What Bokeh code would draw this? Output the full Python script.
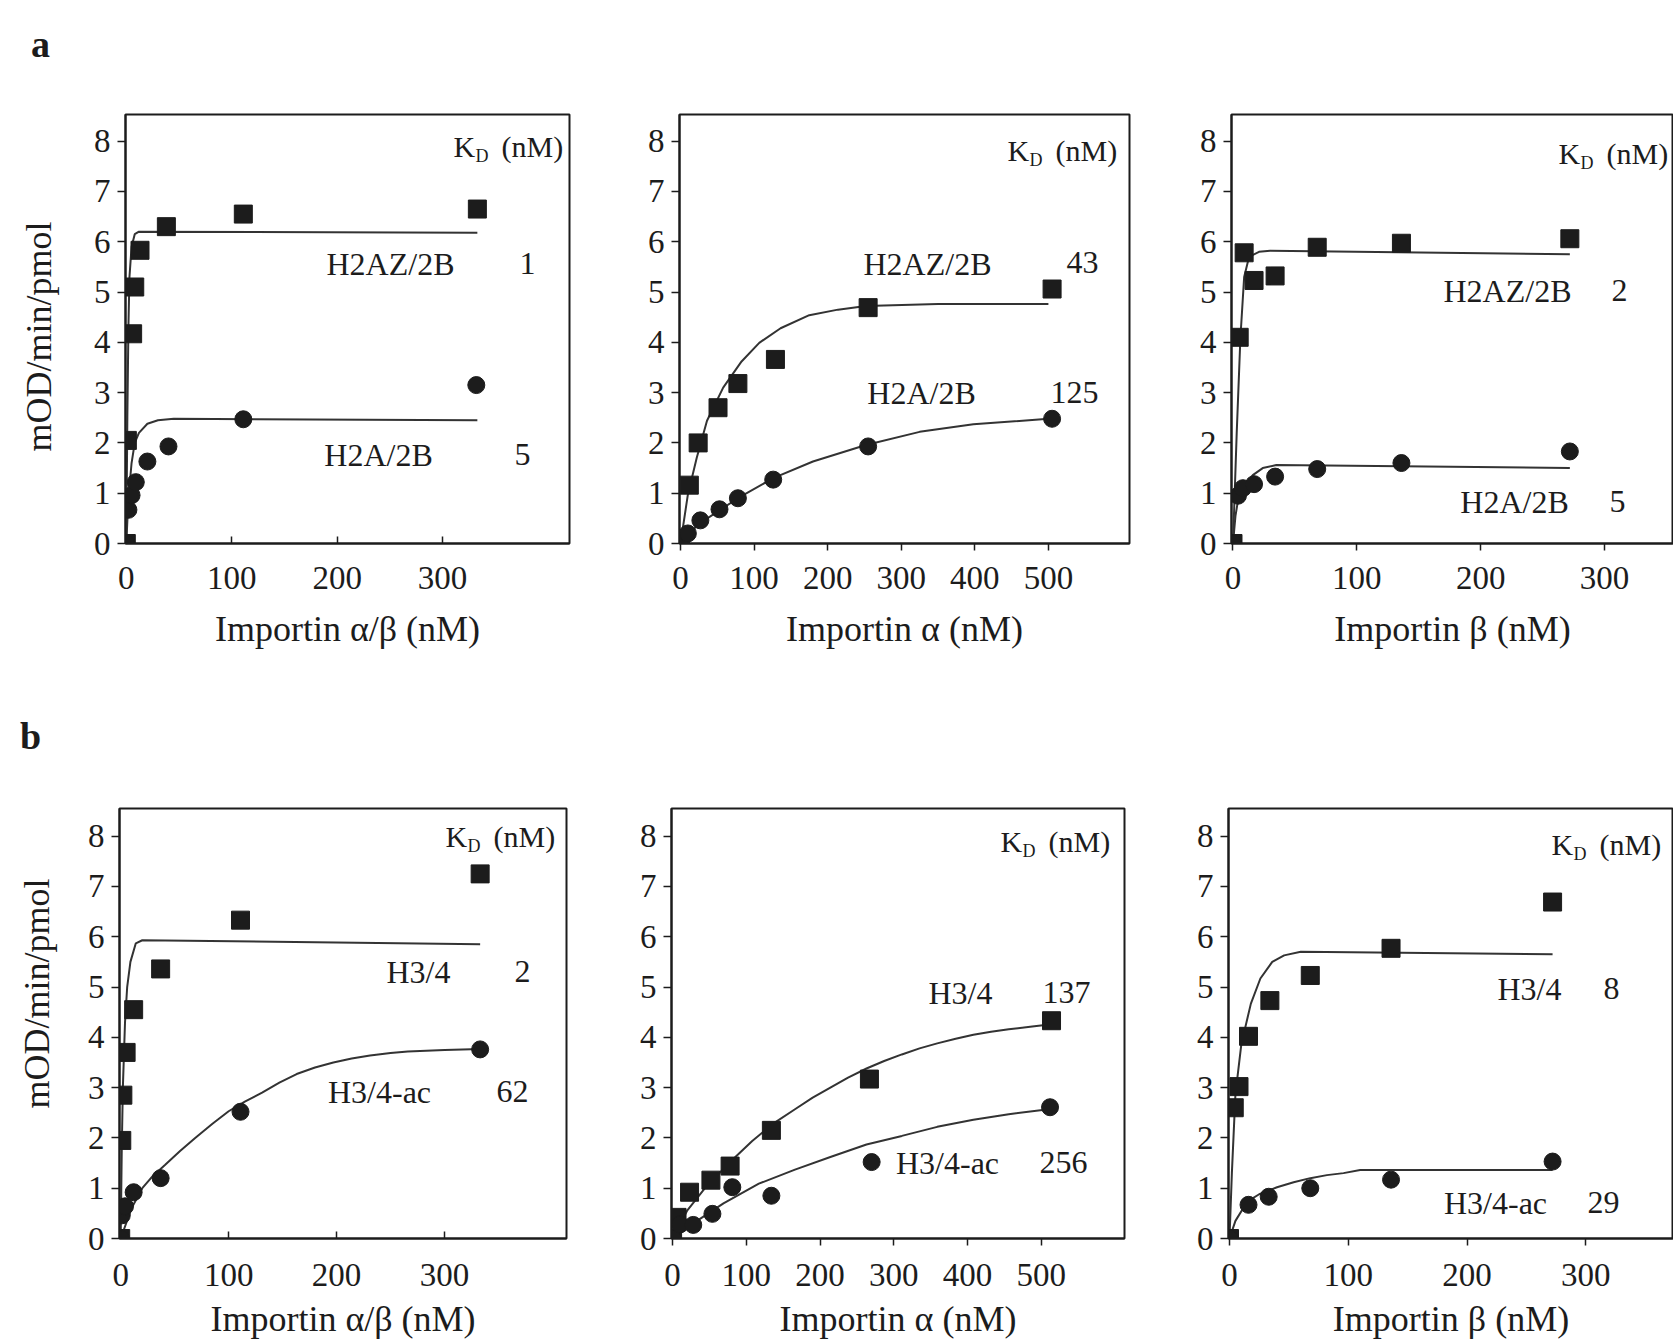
import math
from bokeh.plotting import figure
from bokeh.layouts import row, column
from bokeh.models import Label, Range1d, FixedTicker
from bokeh.embed import file_html
from bokeh.resources import INLINE

FONT = "Liberation Serif"
INK = "#1c1c1c"
LINE = "#333333"

# ------------------------------------------------------------------ data
# a, left: Importin alpha/beta
a1_sq_x = [0, 1, 6, 8, 13, 38, 111, 333]
a1_sq_y = [0, 2.05, 4.17, 5.1, 5.83, 6.3, 6.55, 6.65]
a1_ci_x = [0, 2, 5, 9, 20, 40, 111, 332]
a1_ci_y = [0, 0.67, 0.96, 1.22, 1.63, 1.93, 2.47, 3.15]
a1_fit_sq_x = [0, 1, 2, 3, 5, 8, 12, 333]
a1_fit_sq_y = [0, 2.5, 4.3, 5.3, 5.9, 6.15, 6.2, 6.18]
a1_fit_ci_x = [0, 2, 5, 8, 12, 20, 30, 45, 333]
a1_fit_ci_y = [0, 0.9, 1.6, 2.0, 2.2, 2.38, 2.45, 2.48, 2.45]

# a, middle: Importin alpha
a2_sq_x = [0, 12, 24, 51, 78, 129, 255, 505]
a2_sq_y = [0, 1.16, 2.0, 2.7, 3.18, 3.66, 4.69, 5.06]
a2_ci_x = [0, 10, 27, 53, 78, 126, 255, 505]
a2_ci_y = [0, 0.2, 0.46, 0.68, 0.9, 1.27, 1.93, 2.48]
a2_fit_sq_x = [0, 10, 22, 36, 58, 83, 107, 136, 175, 214, 252, 350, 500]
a2_fit_sq_y = [0, 0.97, 1.7, 2.44, 3.1, 3.62, 3.99, 4.28, 4.54, 4.65, 4.72, 4.76, 4.76]
a2_fit_ci_x = [0, 24, 78, 126, 180, 252, 325, 398, 500]
a2_fit_ci_y = [0, 0.38, 0.9, 1.3, 1.63, 1.96, 2.22, 2.37, 2.48]

# a, right: Importin beta
a3_sq_x = [0, 5, 9, 17, 34, 68, 136, 272]
a3_sq_y = [0, 4.1, 5.78, 5.23, 5.32, 5.89, 5.97, 6.06]
a3_ci_x = [0, 4, 8, 17, 34, 68, 136, 272]
a3_ci_y = [0, 0.95, 1.1, 1.18, 1.33, 1.48, 1.6, 1.83]
a3_fit_sq_x = [0, 3, 6, 9, 13, 21, 30, 272]
a3_fit_sq_y = [0, 2.2, 4.1, 5.3, 5.7, 5.8, 5.82, 5.75]
a3_fit_ci_x = [0, 2, 4, 8, 16, 24, 35, 272]
a3_fit_ci_y = [0, 0.55, 0.85, 1.08, 1.36, 1.5, 1.56, 1.5]

# b, left: Importin alpha/beta
b1_sq_x = [0, 1, 2, 5, 12, 37, 111, 333]
b1_sq_y = [0, 1.95, 2.85, 3.7, 4.55, 5.36, 6.33, 7.25]
b1_ci_x = [0, 1, 4, 12, 37, 111, 333]
b1_ci_y = [0, 0.46, 0.64, 0.92, 1.2, 2.52, 3.76]
b1_fit_sq_x = [0, 1, 2, 4, 6, 9, 14, 20, 333]
b1_fit_sq_y = [0, 1.8, 3.0, 4.3, 5.0, 5.5, 5.87, 5.93, 5.85]
b1_fit_ci_x = [0, 10, 20, 30, 41, 55, 69, 85, 100, 115, 131, 147, 163, 180, 197, 214, 231, 250, 266, 300, 333]
b1_fit_ci_y = [0, 0.6, 1.0, 1.25, 1.46, 1.74, 2.0, 2.28, 2.53, 2.72, 2.9, 3.1, 3.27, 3.4, 3.5, 3.58, 3.64, 3.69, 3.72, 3.75, 3.77]

# b, middle: Importin alpha
b2_sq_x = [0, 6, 23, 52, 78, 134, 267, 514]
b2_sq_y = [0, 0.42, 0.92, 1.16, 1.44, 2.15, 3.17, 4.33]
b2_ci_x = [0, 10, 28, 54, 81, 134, 270, 512]
b2_ci_y = [0, 0.28, 0.27, 0.49, 1.02, 0.85, 1.52, 2.61]
b2_fit_sq_x = [0, 20, 45, 78, 108, 137, 166, 190, 214, 238, 263, 287, 311, 335, 359, 384, 408, 432, 456, 485, 514]
b2_fit_sq_y = [0, 0.56, 1.02, 1.52, 1.94, 2.29, 2.57, 2.8, 3.0, 3.2, 3.38, 3.53, 3.66, 3.78, 3.88, 3.97, 4.05, 4.11, 4.16, 4.21, 4.26]
b2_fit_ci_x = [0, 30, 69, 117, 166, 214, 263, 311, 359, 408, 456, 510]
b2_fit_ci_y = [0, 0.32, 0.7, 1.09, 1.37, 1.62, 1.87, 2.04, 2.22, 2.36, 2.47, 2.57]

# b, right: Importin beta
b3_sq_x = [0, 4, 8, 16, 34, 68, 136, 272]
b3_sq_y = [0, 2.6, 3.02, 4.02, 4.73, 5.23, 5.77, 6.69]
b3_ci_x = [0, 16, 33, 68, 136, 272]
b3_ci_y = [0, 0.67, 0.83, 1.0, 1.17, 1.53]
b3_fit_sq_x = [0, 2, 5, 10, 18, 26, 36, 46, 60, 272]
b3_fit_sq_y = [0, 1.3, 2.87, 3.87, 4.67, 5.17, 5.5, 5.63, 5.7, 5.65]
b3_fit_ci_x = [0, 5, 11, 18, 25, 40, 54, 68, 82, 96, 110, 272]
b3_fit_ci_y = [0, 0.35, 0.58, 0.78, 0.88, 1.02, 1.12, 1.2, 1.26, 1.3, 1.36, 1.36]

y_ticks = [0, 1, 2, 3, 4, 5, 6, 7, 8]
x_ticks_300 = [0, 100, 200, 300]
x_ticks_500 = [0, 100, 200, 300, 400, 500]

# series names and dissociation constants (nM)
a_names = ["H2AZ/2B", "H2A/2B"]
b_names = ["H3/4", "H3/4-ac"]
a1_kd = ["1", "5"]
a2_kd = ["43", "125"]
a3_kd = ["2", "5"]
b1_kd = ["2", "62"]
b2_kd = ["137", "256"]
b3_kd = ["8", "29"]

x_titles = ["Importin \u03b1/\u03b2 (nM)", "Importin \u03b1 (nM)", "Importin \u03b2 (nM)"]
y_title = "mOD/min/pmol"
panel_letters = ["a", "b"]

# ------------------------------------------------------------------ layout (page pixels, origin top-left)
YW = 60  # width of the strip holding the y-axis title
ROWS = {
    "a": dict(top=114, H=429, ytop=8.53, bt=10, bb=112, s_in=(23, 17), s_out=(16, 17), ylab=(38, 336)),
    "b": dict(top=808, H=430, ytop=8.55, bt=10, bb=100, s_in=(25, 10), s_out=(18, 10), ylab=(36, 993)),
}
LETTER_STRIPS = [("a", 104, (40, 43)), ("b", 143, (30, 735))]  # (row, height, letter page pos)
STRIP_TOP = {"a": 0, "b": 655}

panels = [
    dict(row="a", data=(a1_sq_x, a1_sq_y, a1_ci_x, a1_ci_y, a1_fit_sq_x, a1_fit_sq_y, a1_fit_ci_x, a1_fit_ci_y),
         L=125, W=444, bl=65, br=41, xr=(-0.76, 420.4), xt=x_ticks_300, tin=True, title=x_titles[0],
         names=a_names, kd=a1_kd, kpos=(453, 146), npos=[(390, 263), (378, 454)], vpos=[(527, 263), (522, 454)]),
    dict(row="a", data=(a2_sq_x, a2_sq_y, a2_ci_x, a2_ci_y, a2_fit_sq_x, a2_fit_sq_y, a2_fit_ci_x, a2_fit_ci_y),
         L=679, W=450, bl=69, br=31, xr=(-1.36, 610.2), xt=x_ticks_500, tin=False, title=x_titles[1],
         names=a_names, kd=a2_kd, kpos=(1007, 150), npos=[(927, 263), (921, 392)], vpos=[(1082, 262), (1074, 392)]),
    dict(row="a", data=(a3_sq_x, a3_sq_y, a3_ci_x, a3_ci_y, a3_fit_sq_x, a3_fit_sq_y, a3_fit_ci_x, a3_fit_ci_y),
         L=1231, W=442, bl=71, br=0, xr=(-1.21, 355.7), xt=x_ticks_300, tin=False, title=x_titles[2],
         names=a_names, kd=a3_kd, kpos=(1558, 153), npos=[(1507, 290), (1514, 501)], vpos=[(1619, 290), (1617, 501)]),
    dict(row="b", data=(b1_sq_x, b1_sq_y, b1_ci_x, b1_ci_y, b1_fit_sq_x, b1_fit_sq_y, b1_fit_ci_x, b1_fit_ci_y),
         L=119, W=447, bl=59, br=39, xr=(-1.11, 413.0), xt=x_ticks_300, tin=True, title=x_titles[0],
         names=b_names, kd=b1_kd, kpos=(445, 836), npos=[(418, 971), (379, 1091)], vpos=[(522, 971), (512, 1091)]),
    dict(row="b", data=(b2_sq_x, b2_sq_y, b2_ci_x, b2_ci_y, b2_fit_sq_x, b2_fit_sq_y, b2_fit_ci_x, b2_fit_ci_y),
         L=671, W=453, bl=66, br=36, xr=(-1.49, 613.0), xt=x_ticks_500, tin=False, title=x_titles[1],
         names=b_names, kd=b2_kd, kpos=(1000, 841), npos=[(960, 992), (947, 1162)], vpos=[(1066, 992), (1063, 1162)]),
    dict(row="b", data=(b3_sq_x, b3_sq_y, b3_ci_x, b3_ci_y, b3_fit_sq_x, b3_fit_sq_y, b3_fit_ci_x, b3_fit_ci_y),
         L=1228, W=445, bl=68, br=0, xr=(-0.84, 373.8), xt=x_ticks_300, tin=False, title=x_titles[2],
         names=b_names, kd=b3_kd, kpos=(1551, 844), npos=[(1529, 988), (1495, 1202)], vpos=[(1611, 988), (1603, 1202)]),
]


def bare_figure(width, height, bt=0, bb=0, frame_h=None):
    kw = dict(min_border_left=0, min_border_right=0, min_border_top=bt, min_border_bottom=bb,
              x_axis_location=None, y_axis_location=None,
              output_backend="svg", toolbar_location=None, tools="")
    if frame_h is None:
        p = figure(frame_width=width, frame_height=height, x_range=Range1d(0, width),
                   y_range=Range1d(0, height), **kw)
    else:
        p = figure(frame_width=width, frame_height=frame_h, x_range=Range1d(0, width),
                   y_range=Range1d(0, frame_h), **kw)
    p.grid.visible = False
    p.outline_line_color = None
    p.background_fill_color = "white"
    p.border_fill_color = "white"
    return p


def letter_strip(letter, height, top, pos):
    p = bare_figure(1673, height)
    lx, ly = pos
    p.add_layout(Label(x=lx, y=height - (ly - top), text=letter, text_font=FONT,
                       text_font_size="38px", text_font_style="bold", text_color=INK,
                       text_align="center", text_baseline="middle"))
    return p


def ytitle_strip(r):
    cfg = ROWS[r]
    p = bare_figure(YW, None, bt=cfg["bt"], bb=cfg["bb"], frame_h=cfg["H"])
    lx, ly = cfg["ylab"]
    p.add_layout(Label(x=lx, y=cfg["top"] + cfg["H"] - ly, text=y_title, text_font=FONT,
                       text_font_size="36px", text_color=INK, angle=math.pi / 2,
                       text_align="center", text_baseline="middle"))
    return p


def make_panel(c):
    cfg = ROWS[c["row"]]
    L, W, T, H = c["L"], c["W"], cfg["top"], cfg["H"]
    x0, x1 = c["xr"]
    ytop = cfg["ytop"]

    def to_data(px, py):
        return x0 + (px - L) * (x1 - x0) / W, (T + H - py) * ytop / H

    p = figure(frame_width=W, frame_height=H,
               min_border_left=c["bl"], min_border_right=c["br"],
               min_border_top=cfg["bt"], min_border_bottom=cfg["bb"],
               x_range=Range1d(x0, x1), y_range=Range1d(0, ytop),
               output_backend="svg", toolbar_location=None, tools="")
    p.grid.visible = False
    p.background_fill_color = "white"
    p.border_fill_color = "white"
    p.outline_line_color = INK
    p.outline_line_width = 2

    for ax in (p.xaxis[0], p.yaxis[0]):
        ax.axis_line_color = INK
        ax.axis_line_width = 2
        ax.major_tick_line_color = INK
        ax.major_tick_line_width = 1.5
        ax.minor_tick_line_color = None
        ax.major_label_text_font = FONT
        ax.major_label_text_font_size = "33px"
        ax.major_label_text_color = INK
        ax.axis_label_text_font = FONT
        ax.axis_label_text_font_size = "36px"
        ax.axis_label_text_font_style = "normal"
        ax.axis_label_text_color = INK

    p.xaxis.ticker = FixedTicker(ticks=c["xt"])
    p.yaxis.ticker = FixedTicker(ticks=y_ticks)
    if c["tin"]:
        p.xaxis.major_tick_in = 7
        p.xaxis.major_tick_out = 0
        s1, s2 = cfg["s_in"]
    else:
        p.xaxis.major_tick_in = 0
        p.xaxis.major_tick_out = 7
        s1, s2 = cfg["s_out"]
    p.xaxis.major_label_standoff = s1
    p.xaxis.axis_label = c["title"]
    p.xaxis.axis_label_standoff = s2
    p.yaxis.major_tick_in = 0
    p.yaxis.major_tick_out = 8
    p.yaxis.major_label_standoff = 7

    sx, sy, cx, cy, fsx, fsy, fcx, fcy = c["data"]
    p.line(fsx, fsy, line_color=LINE, line_width=2)
    p.line(fcx, fcy, line_color=LINE, line_width=2)
    p.scatter(sx, sy, marker="square", size=18, fill_color=INK, line_color=INK)
    p.scatter(cx, cy, marker="circle", size=17, fill_color=INK, line_color=INK)

    def lab(px, py, text, size="32px", align="center"):
        x, y = to_data(px, py)
        p.add_layout(Label(x=x, y=y, text=text, text_font=FONT, text_font_size=size,
                           text_color=INK, text_align=align, text_baseline="middle"))

    kx, ky = c["kpos"]
    lab(kx, ky, "K", size="30px", align="left")
    lab(kx + 22, ky + 9, "D", size="18px", align="left")
    lab(kx + 48, ky, "(nM)", size="30px", align="left")
    for name, (nx, ny) in zip(c["names"], c["npos"]):
        lab(nx, ny, name)
    for kd, (vx, vy) in zip(c["kd"], c["vpos"]):
        lab(vx, vy, kd)
    return p


figs = [make_panel(c) for c in panels]
strip_a = letter_strip(panel_letters[0], LETTER_STRIPS[0][1], STRIP_TOP["a"], LETTER_STRIPS[0][2])
strip_b = letter_strip(panel_letters[1], LETTER_STRIPS[1][1], STRIP_TOP["b"], LETTER_STRIPS[1][2])
layout = column(strip_a,
                row(ytitle_strip("a"), *figs[:3]),
                strip_b,
                row(ytitle_strip("b"), *figs[3:]))
open("out.html", "w").write(file_html(layout, INLINE))
